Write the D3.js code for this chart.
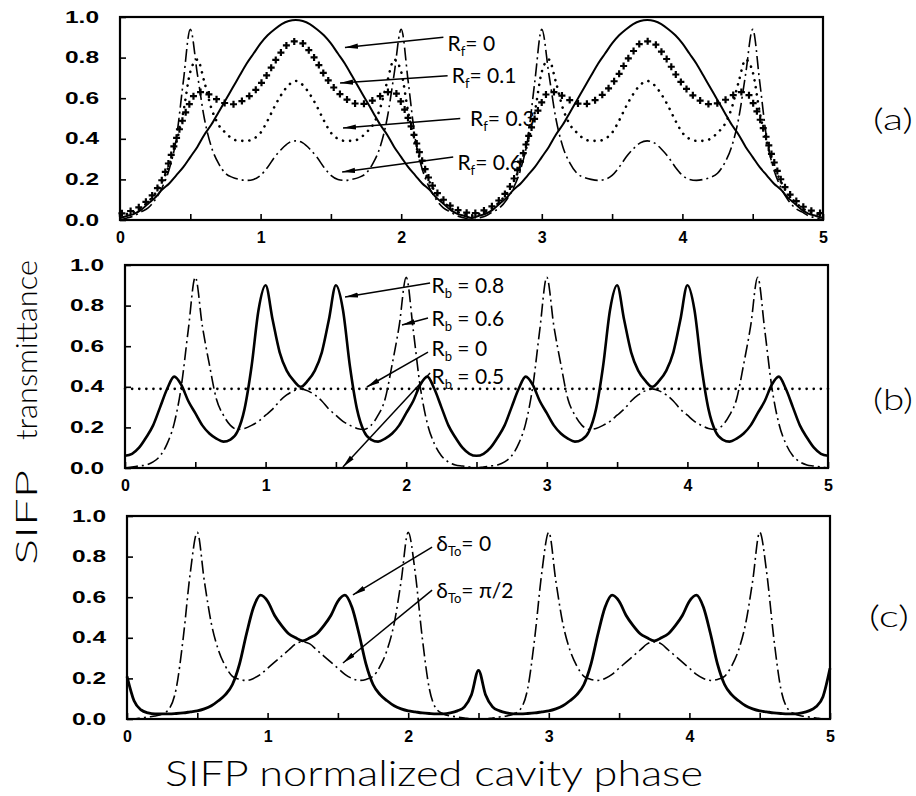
<!DOCTYPE html>
<html>
<head>
<meta charset="utf-8">
<script src="https://cdn.jsdelivr.net/npm/d3@7"></script>
<style>
  body { margin: 0; background: #fff; }
  svg { display: block; }
</style>
</head>
<body>
<svg id="chart" width="916" height="796"></svg>
<script>

// ---- data ----
// normalized cavity phase, sample grid
const phase = [0,0.05,0.1,0.15,0.2,0.25,0.3,0.35,0.4,0.45,0.5,0.55,0.6,0.65,0.7,0.75,0.8,0.85,0.9,0.95,
  1,1.05,1.1,1.15,1.2,1.25,1.3,1.35,1.4,1.45,1.5,1.55,1.6,1.65,1.7,1.75,1.8,1.85,1.9,1.95,
  2,2.05,2.1,2.15,2.2,2.25,2.3,2.35,2.4,2.45,2.5,2.55,2.6,2.65,2.7,2.75,2.8,2.85,2.9,2.95,
  3,3.05,3.1,3.15,3.2,3.25,3.3,3.35,3.4,3.45,3.5,3.55,3.6,3.65,3.7,3.75,3.8,3.85,3.9,3.95,
  4,4.05,4.1,4.15,4.2,4.25,4.3,4.35,4.4,4.45,4.5,4.55,4.6,4.65,4.7,4.75,4.8,4.85,4.9,4.95,5];

// (a) front mirror reflectivity
const a_Rf0 = [0.01,0.02,0.03,0.05,0.08,0.11,0.15,0.18,0.22,0.26,0.31,0.36,0.42,0.47,0.53,0.59,0.65,0.71,0.77,0.82,0.87,0.91,0.94,0.965,0.98,0.985,
  0.98,0.965,0.94,0.91,0.87,0.82,0.77,0.71,0.65,0.59,0.53,0.47,0.42,0.36,0.31,0.26,0.22,0.18,0.15,0.11,0.08,0.05,0.03,0.02,0.01,
  0.02,0.03,0.05,0.08,0.11,0.15,0.18,0.22,0.26,0.31,0.36,0.42,0.47,0.53,0.59,0.65,0.71,0.77,0.82,0.87,0.91,0.94,0.965,0.98,0.985,
  0.98,0.965,0.94,0.91,0.87,0.82,0.77,0.71,0.65,0.59,0.53,0.47,0.42,0.36,0.31,0.26,0.22,0.18,0.15,0.11,0.08,0.05,0.03,0.02,0.01];
const a_Rf01 = [0.03,0.04,0.05,0.07,0.10,0.14,0.20,0.29,0.40,0.50,0.58,0.63,0.63,0.61,0.59,0.575,0.57,0.58,0.60,0.63,0.67,0.72,0.78,0.83,0.87,0.88,
  0.87,0.83,0.78,0.72,0.67,0.63,0.60,0.58,0.57,0.575,0.59,0.61,0.63,0.63,0.58,0.50,0.40,0.29,0.20,0.14,0.10,0.07,0.05,0.04,0.03,
  0.04,0.05,0.07,0.10,0.14,0.20,0.29,0.40,0.50,0.58,0.63,0.63,0.61,0.59,0.575,0.57,0.58,0.60,0.63,0.67,0.72,0.78,0.83,0.87,0.88,
  0.87,0.83,0.78,0.72,0.67,0.63,0.60,0.58,0.57,0.575,0.59,0.61,0.63,0.63,0.58,0.50,0.40,0.29,0.20,0.14,0.10,0.07,0.05,0.04,0.03];
const a_Rf03 = [0.02,0.03,0.04,0.06,0.09,0.13,0.19,0.27,0.38,0.53,0.73,0.79,0.68,0.55,0.47,0.43,0.40,0.39,0.39,0.40,0.43,0.49,0.56,0.62,0.665,0.685,
  0.665,0.62,0.56,0.49,0.43,0.40,0.39,0.39,0.40,0.43,0.47,0.55,0.68,0.79,0.73,0.53,0.38,0.27,0.19,0.13,0.09,0.06,0.04,0.03,0.02,
  0.03,0.04,0.06,0.09,0.13,0.19,0.27,0.38,0.53,0.73,0.79,0.68,0.55,0.47,0.43,0.40,0.39,0.39,0.40,0.43,0.49,0.56,0.62,0.665,0.685,
  0.665,0.62,0.56,0.49,0.43,0.40,0.39,0.39,0.40,0.43,0.47,0.55,0.68,0.79,0.73,0.53,0.38,0.27,0.19,0.13,0.09,0.06,0.04,0.03,0.02];
const a_Rf06 = [0.0,0.01,0.02,0.04,0.06,0.10,0.16,0.25,0.40,0.68,0.94,0.72,0.50,0.36,0.28,0.23,0.21,0.20,0.195,0.20,0.22,0.26,0.31,0.35,0.38,0.39,
  0.38,0.35,0.31,0.26,0.22,0.20,0.195,0.20,0.21,0.23,0.28,0.36,0.50,0.72,0.94,0.68,0.40,0.25,0.16,0.10,0.06,0.04,0.02,0.01,0.0,
  0.01,0.02,0.04,0.06,0.10,0.16,0.25,0.40,0.68,0.94,0.72,0.50,0.36,0.28,0.23,0.21,0.20,0.195,0.20,0.22,0.26,0.31,0.35,0.38,0.39,
  0.38,0.35,0.31,0.26,0.22,0.20,0.195,0.20,0.21,0.23,0.28,0.36,0.50,0.72,0.94,0.68,0.40,0.25,0.16,0.10,0.06,0.04,0.02,0.01,0.0];

// (b) back mirror reflectivity
const b_Rb08 = [0.06,0.07,0.10,0.15,0.21,0.30,0.39,0.45,0.41,0.33,0.27,0.21,0.17,0.145,0.13,0.14,0.18,0.29,0.50,0.78,0.90,0.73,0.57,0.48,0.43,0.40,
  0.43,0.48,0.57,0.73,0.90,0.78,0.50,0.29,0.18,0.14,0.13,0.145,0.17,0.21,0.27,0.33,0.41,0.45,0.39,0.30,0.21,0.15,0.10,0.07,0.06,
  0.07,0.10,0.15,0.21,0.30,0.39,0.45,0.41,0.33,0.27,0.21,0.17,0.145,0.13,0.14,0.18,0.29,0.50,0.78,0.90,0.73,0.57,0.48,0.43,0.40,
  0.43,0.48,0.57,0.73,0.90,0.78,0.50,0.29,0.18,0.14,0.13,0.145,0.17,0.21,0.27,0.33,0.41,0.45,0.39,0.30,0.21,0.15,0.10,0.07,0.06];
const b_Rb06 = [0,0.005,0.01,0.015,0.03,0.06,0.12,0.22,0.40,0.68,0.94,0.70,0.51,0.34,0.26,0.21,0.19,0.195,0.21,0.23,0.26,0.29,0.33,0.36,0.38,0.39,
  0.38,0.36,0.33,0.29,0.26,0.23,0.21,0.195,0.19,0.21,0.26,0.34,0.51,0.70,0.94,0.68,0.40,0.22,0.12,0.06,0.03,0.015,0.01,0.005,0,
  0.005,0.01,0.015,0.03,0.06,0.12,0.22,0.40,0.68,0.94,0.70,0.51,0.34,0.26,0.21,0.19,0.195,0.21,0.23,0.26,0.29,0.33,0.36,0.38,0.39,
  0.38,0.36,0.33,0.29,0.26,0.23,0.21,0.195,0.19,0.21,0.26,0.34,0.51,0.70,0.94,0.68,0.40,0.22,0.12,0.06,0.03,0.015,0.01,0.005,0];
const b_Rb0_phase = [0, 5];
const b_Rb0 = [0.39, 0.39];

// (c) round-trip phase offset
const c_d0 = [0.21,0.09,0.045,0.03,0.025,0.025,0.025,0.027,0.03,0.035,0.04,0.05,0.065,0.09,0.12,0.17,0.27,0.42,0.55,0.61,0.58,0.51,0.46,0.42,0.40,0.385,
  0.40,0.42,0.46,0.51,0.58,0.61,0.55,0.42,0.27,0.17,0.12,0.09,0.065,0.05,0.04,0.035,0.03,0.027,0.025,0.025,0.03,0.04,0.06,0.12,0.24,
  0.12,0.06,0.04,0.03,0.025,0.025,0.027,0.03,0.035,0.04,0.05,0.065,0.09,0.12,0.17,0.27,0.42,0.55,0.61,0.58,0.51,0.46,0.42,0.40,0.385,
  0.40,0.42,0.46,0.51,0.58,0.61,0.55,0.42,0.27,0.17,0.12,0.09,0.065,0.05,0.04,0.035,0.03,0.027,0.025,0.025,0.03,0.04,0.06,0.11,0.25];
const c_dpi2 = [0,0,0.005,0.01,0.015,0.025,0.05,0.15,0.40,0.72,0.92,0.68,0.47,0.34,0.26,0.21,0.195,0.19,0.20,0.22,0.25,0.28,0.31,0.34,0.37,0.38,
  0.37,0.34,0.31,0.28,0.25,0.22,0.20,0.19,0.195,0.21,0.26,0.34,0.47,0.68,0.92,0.72,0.40,0.15,0.05,0.025,0.015,0.01,0.005,0,0,
  0,0.005,0.01,0.015,0.025,0.05,0.15,0.40,0.72,0.92,0.68,0.47,0.34,0.26,0.21,0.195,0.19,0.20,0.22,0.25,0.28,0.31,0.34,0.37,0.38,
  0.37,0.34,0.31,0.28,0.25,0.22,0.20,0.19,0.195,0.21,0.26,0.34,0.47,0.68,0.92,0.72,0.40,0.15,0.05,0.025,0.015,0.01,0.005,0,0];

// axes
const xTicks = [0,0.5,1,1.5,2,2.5,3,3.5,4,4.5,5];
const yTicks = [0,0.2,0.4,0.6,0.8,1.0];
const panelNames = ["(a)", "(b)", "(c)"];
const legendA = ["0", "0.1", "0.3", "0.6"];
const legendB = ["0.8", "0.6", "0", "0.5"];
const legendC = ["0", "\u03C0/2"];

// ---- drawing ----
let svg = d3.select("#chart");
let textFont = "Lato, 'Open Sans', sans-serif";
let tickFont = "'Liberation Sans', Arial, sans-serif";

svg.append("defs").append("marker")
    .attr("id", "head")
    .attr("viewBox", "0 -3 13 6")
    .attr("refX", 13).attr("refY", 0)
    .attr("markerUnits", "userSpaceOnUse")
    .attr("markerWidth", 13).attr("markerHeight", 6)
    .attr("orient", "auto")
  .append("path")
    .attr("d", "M0,-2.6L13,0L0,2.6Z")
    .attr("fill", "#000");

function make_panel(left, top, w, h){
    let g = svg.append("g").attr("transform", "translate(" + left + "," + top + ")");
    let x = d3.scaleLinear().domain([0, 5]).range([0, w]);
    let y = d3.scaleLinear().domain([0, 1]).range([h, 0]);

    let xa = g.append("g")
        .attr("transform", "translate(0," + h + ")")
        .call(d3.axisBottom(x).tickValues(xTicks).tickSizeInner(-6).tickSizeOuter(0).tickPadding(12)
              .tickFormat(function(d){ return Number.isInteger(d) ? d : ""; }));
    let ya = g.append("g")
        .call(d3.axisLeft(y).tickValues(yTicks).tickSizeInner(-6).tickSizeOuter(0).tickPadding(21)
              .tickFormat(d3.format(".1f")));
    [xa, ya].forEach(function(a){
        a.select(".domain").remove();
        a.selectAll("line").attr("stroke", "#000").attr("stroke-width", 1.6);
        a.selectAll("text")
            .attr("fill", "#000")
            .style("font-family", tickFont)
            .style("font-weight", "bold")
            .style("font-size", "16px");
    });
    ya.selectAll("text")
        .attr("textLength", 34)
        .attr("lengthAdjust", "spacingAndGlyphs");

    g.append("rect")
        .attr("width", w).attr("height", h)
        .attr("fill", "none").attr("stroke", "#000").attr("stroke-width", 2.2);

    return {g: g, x: x, y: y};
}

function draw_curve(p, xs, ys, kind, width){
    let line = d3.line()
        .x(function(d){ return p.x(d[0]); })
        .y(function(d){ return p.y(d[1]); })
        .curve(d3.curveMonotoneX);
    let path = p.g.append("path")
        .datum(d3.zip(xs, ys))
        .attr("d", line)
        .attr("fill", "none")
        .attr("stroke", "#000")
        .attr("stroke-width", width || 2);
    if (kind == "dashdot") {
        path.attr("stroke-dasharray", "13,4,2,4");
    } else if (kind == "dot") {
        path.attr("stroke-dasharray", "0.1,7").attr("stroke-linecap", "round");
    } else if (kind == "cross") {
        path.attr("stroke", "none");
        let node = path.node();
        let len = node.getTotalLength();
        for (let s = 2; s < len; s += 9) {
            let pt = node.getPointAtLength(s);
            p.g.append("path")
                .attr("d", "M" + (pt.x - 3.5) + "," + pt.y + "h7M" + pt.x + "," + (pt.y - 3.5) + "v7")
                .attr("stroke", "#000").attr("stroke-width", 2.2);
        }
    }
}

function arrow(p, tip, tail){
    p.g.append("line")
        .attr("x1", p.x(tail[0])).attr("y1", p.y(tail[1]))
        .attr("x2", p.x(tip[0])).attr("y2", p.y(tip[1]))
        .attr("stroke", "#000").attr("stroke-width", 1.5)
        .attr("marker-end", "url(#head)");
}

function note(p, at, main, sub, rest){
    let t = p.g.append("text")
        .attr("x", p.x(at[0])).attr("y", p.y(at[1]))
        .attr("dy", "0.36em")
        .style("font-family", textFont)
        .style("font-size", "21px")
        .style("white-space", "pre");
    t.append("tspan").text(main);
    t.append("tspan").attr("dy", 5).style("font-size", "13px").text(sub);
    t.append("tspan").attr("dy", -5).text(rest);
}

// panel (a)
let pa = make_panel(120, 17, 703, 203);
draw_curve(pa, phase, a_Rf06, "dashdot", 1.6);
draw_curve(pa, phase, a_Rf03, "dot", 2.6);
draw_curve(pa, phase, a_Rf01, "cross");
draw_curve(pa, phase, a_Rf0, "solid", 2);
arrow(pa, [1.60, 0.85], [2.30, 0.90]);
arrow(pa, [1.565, 0.675], [2.33, 0.71]);
arrow(pa, [1.586, 0.453], [2.42, 0.50]);
arrow(pa, [1.58, 0.236], [2.37, 0.31]);
note(pa, [2.33, 0.872], "R", "f", "= " + legendA[0]);
note(pa, [2.36, 0.714], "R", "f", "= " + legendA[1]);
note(pa, [2.49, 0.502], "R", "f", "= " + legendA[2]);
note(pa, [2.40, 0.286], "R", "f", "= " + legendA[3]);

// panel (b)
let pb = make_panel(125, 265, 703, 203);
draw_curve(pb, b_Rb0_phase, b_Rb0, "dot", 2.6);
draw_curve(pb, phase, b_Rb06, "dashdot", 1.6);
draw_curve(pb, phase, b_Rb08, "solid", 2.6);
arrow(pb, [1.565, 0.842], [2.17, 0.911]);
arrow(pb, [1.97, 0.704], [2.155, 0.739]);
arrow(pb, [1.72, 0.399], [2.155, 0.571]);
arrow(pb, [1.55, 0.005], [2.17, 0.468]);
note(pb, [2.18, 0.90], "R", "b", " = " + legendB[0]);
note(pb, [2.18, 0.739], "R", "b", " = " + legendB[1]);
note(pb, [2.18, 0.591], "R", "b", " = " + legendB[2]);
note(pb, [2.18, 0.453], "R", "b", " = " + legendB[3]);

// panel (c)
let pc = make_panel(127, 516, 703, 203);
draw_curve(pc, phase, c_dpi2, "dashdot", 1.6);
draw_curve(pc, phase, c_d0, "solid", 2.8);
arrow(pc, [1.607, 0.611], [2.17, 0.847]);
arrow(pc, [1.536, 0.276], [2.17, 0.635]);
note(pc, [2.20, 0.867], "\u03B4", "To", "= " + legendC[0]);
note(pc, [2.20, 0.635], "\u03B4", "To", "= " + legendC[1]);

// panel tags
[[893, 120], [893, 400], [889, 617]].forEach(function(pos, i){
    svg.append("text")
        .attr("x", pos[0]).attr("y", pos[1])
        .attr("dy", "0.35em")
        .attr("text-anchor", "middle")
        .style("font-family", textFont)
        .style("font-weight", 300)
        .style("font-size", "29px")
        .attr("textLength", 40)
        .attr("lengthAdjust", "spacingAndGlyphs")
        .text(panelNames[i]);
});

// axis titles
svg.append("text")
    .attr("x", 165).attr("y", 786)
    .attr("textLength", 538)
    .attr("lengthAdjust", "spacingAndGlyphs")
    .style("font-family", textFont)
    .style("font-weight", 300)
    .style("font-size", "35px")
    .text("SIFP normalized cavity phase");

svg.append("text")
    .attr("transform", "translate(37,565) rotate(-90)")
    .attr("textLength", 95)
    .attr("lengthAdjust", "spacingAndGlyphs")
    .style("font-family", textFont)
    .style("font-weight", 300)
    .style("font-size", "29px")
    .text("SIFP");
svg.append("text")
    .attr("transform", "translate(37,440) rotate(-90)")
    .attr("textLength", 180)
    .attr("lengthAdjust", "spacingAndGlyphs")
    .style("font-family", textFont)
    .style("font-weight", 300)
    .style("font-size", "29px")
    .text("transmittance");

</script>
</body>
</html>
